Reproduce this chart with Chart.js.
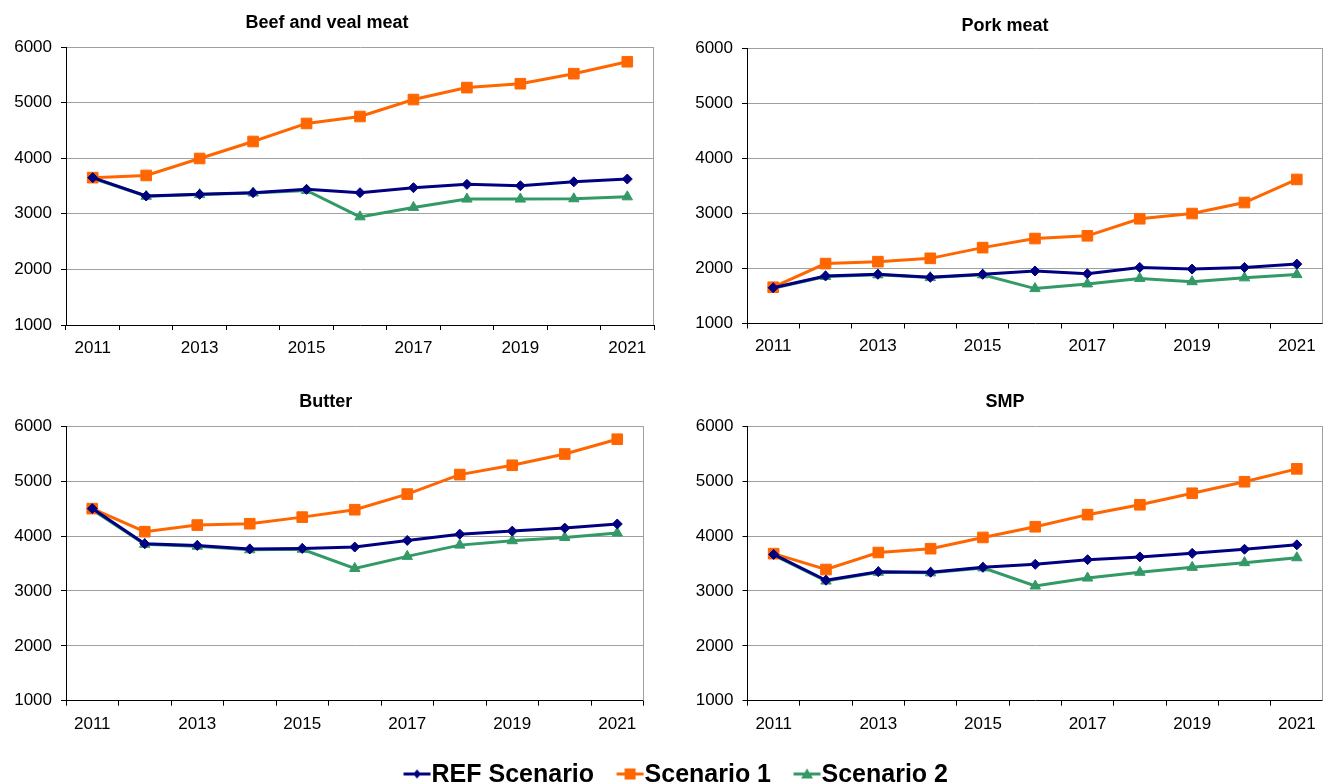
<!DOCTYPE html>
<html>
<head>
<meta charset="utf-8">
<script src="https://cdn.jsdelivr.net/npm/chart.js@4.4.0/dist/chart.umd.min.js"></script>
<style>
  body { margin: 0; background: #fff; width: 1323px; height: 783px; overflow: hidden; position: relative; }
  canvas { position: absolute; }
</style>
</head>
<body>
<canvas id="c1"></canvas>
<canvas id="c2"></canvas>
<canvas id="c3"></canvas>
<canvas id="c4"></canvas>
<canvas id="legend"></canvas>
<script>
// data
const years = ["2011", "2012", "2013", "2014", "2015", "2016", "2017", "2018", "2019", "2020", "2021"];
const seriesNames = ["REF Scenario", "Scenario 1", "Scenario 2"];
const yTicks = [1000, 2000, 3000, 4000, 5000, 6000];

const beefRef = [3650, 3320, 3350, 3380, 3440, 3380, 3470, 3530, 3505, 3575, 3625];
const beefS1 = [3650, 3690, 3995, 4300, 4625, 4750, 5055, 5270, 5340, 5520, 5735];
const beefS2 = [3640, 3315, 3345, 3375, 3420, 2945, 3115, 3265, 3265, 3270, 3305];

const porkRef = [1650, 1865, 1895, 1840, 1895, 1955, 1905, 2020, 1990, 2020, 2080];
const porkS1 = [1660, 2090, 2125, 2185, 2380, 2545, 2595, 2905, 3000, 3200, 3620];
const porkS2 = [1640, 1855, 1885, 1835, 1885, 1635, 1720, 1820, 1760, 1830, 1890];

const butterRef = [4500, 3860, 3830, 3765, 3775, 3800, 3920, 4035, 4090, 4145, 4220];
const butterS1 = [4500, 4080, 4200, 4225, 4345, 4480, 4765, 5120, 5290, 5495, 5765];
const butterS2 = [4480, 3850, 3815, 3750, 3760, 3410, 3630, 3835, 3915, 3975, 4055];

const smpRef = [3665, 3195, 3350, 3340, 3430, 3485, 3570, 3620, 3685, 3760, 3840];
const smpS1 = [3680, 3390, 3700, 3770, 3975, 4170, 4390, 4570, 4780, 4990, 5225];
const smpS2 = [3650, 3180, 3340, 3330, 3420, 3090, 3235, 3340, 3430, 3515, 3605];

// styles
const colors = ["#000080", "#ff6600", "#339966"];
const shapes = ["rectRot", "rect", "triangle"];
const radii = [5, 7.5, 6];
const FONT = "'Liberation Sans', Arial, Helvetica, sans-serif";

// panel layout (canvas box + paddings so plot areas line up with the picture)
const panels = [
  { id: "c1", title: "Beef and veal meat", series: [beefRef, beefS1, beefS2],
    left: 0, top: 0, width: 660, height: 365,
    pad: { left: 0, right: 6, top: 2, bottom: 0 }, yw: 66, xh: 40, tPad: { top: 10, bottom: 13.4 } },
  { id: "c2", title: "Pork meat", series: [porkRef, porkS1, porkS2],
    left: 660, top: 0, width: 663, height: 364,
    pad: { left: 27, right: 0, top: 5, bottom: 0 }, yw: 60, xh: 40.5, tPad: { top: 10, bottom: 12 } },
  { id: "c3", title: "Butter", series: [butterRef, butterS1, butterS2],
    left: 0, top: 380, width: 660, height: 361,
    pad: { left: 8, right: 16.5, top: 1.5, bottom: 0 }, yw: 58, xh: 40.3, tPad: { top: 10, bottom: 13.2 } },
  { id: "c4", title: "SMP", series: [smpRef, smpS1, smpS2],
    left: 660, top: 380, width: 663, height: 361,
    pad: { left: 27, right: 0, top: 1.5, bottom: 0 }, yw: 60.5, xh: 40.3, tPad: { top: 10, bottom: 13.2 } },
];

// gray frame on the right side of the plot area
const rightBorder = {
  id: "rightBorder",
  afterDraw(chart) {
    const { ctx, chartArea } = chart;
    const x = Math.round(chartArea.right) - 0.5;
    ctx.save();
    ctx.strokeStyle = "#a0a0a0";
    ctx.lineWidth = 1;
    ctx.beginPath();
    ctx.moveTo(x, chartArea.top);
    ctx.lineTo(x, chartArea.bottom);
    ctx.stroke();
    ctx.restore();
  },
};

function makeDatasets(series) {
  return series.map((values, i) => ({
    label: seriesNames[i],
    data: values,
    borderColor: colors[i],
    backgroundColor: colors[i],
    borderWidth: 3,
    pointStyle: shapes[i],
    pointRadius: radii[i],
    pointBorderWidth: 1,
    pointBorderColor: colors[i],
    pointBackgroundColor: colors[i],
    tension: 0,
  }));
}

panels.forEach((p) => {
  const cv = document.getElementById(p.id);
  cv.width = p.width;
  cv.height = p.height;
  cv.style.left = p.left + "px";
  cv.style.top = p.top + "px";

  new Chart(cv, {
    type: "line",
    data: { labels: years, datasets: makeDatasets(p.series) },
    plugins: [rightBorder],
    options: {
      responsive: false,
      animation: false,
      layout: { padding: p.pad, autoPadding: false },
      plugins: {
        legend: { display: false },
        tooltip: { enabled: false },
        title: {
          display: true,
          text: p.title,
          color: "#000",
          font: { family: FONT, size: 18, weight: "bold" },
          padding: p.tPad,
        },
      },
      scales: {
        x: {
          offset: true,
          grid: { offset: true, drawOnChartArea: false, tickLength: 5, tickColor: "#000" },
          border: { color: "#000", width: 1 },
          ticks: {
            autoSkip: false,
            maxRotation: 0,
            padding: 8,
            color: "#000",
            font: { family: FONT, size: 17 },
            callback: function (val, i) {
              return i % 2 === 0 ? this.getLabelForValue(val) : "";
            },
          },
          afterFit: (scale) => {
            scale.height = p.xh;
            scale.paddingLeft = 0;
            scale.paddingRight = 0;
          },
        },
        y: {
          min: yTicks[0],
          max: yTicks[yTicks.length - 1],
          afterBuildTicks: (scale) => { scale.ticks = yTicks.map((v) => ({ value: v })); },
          grid: {
            color: (ctx) => (ctx.tick && ctx.tick.value === yTicks[0] ? "rgba(0,0,0,0)" : "#a0a0a0"),
            tickLength: 5,
            tickColor: "#000",
          },
          border: { color: "#000", width: 1 },
          ticks: {
            padding: 9,
            color: "#000",
            font: { family: FONT, size: 17 },
            callback: (v) => String(v),
          },
          afterFit: (scale) => { scale.width = p.yw; },
        },
      },
    },
  });
});

// legend: line segment with the marker in the middle
function legendIcon(i) {
  const c = document.createElement("canvas");
  c.width = 40;
  c.height = 16;
  const g = c.getContext("2d");
  g.strokeStyle = colors[i];
  g.fillStyle = colors[i];
  g.lineWidth = 3;
  const cx = 26, cy = 6.5;
  g.beginPath();
  g.moveTo(12.5, cy);
  g.lineTo(39.5, cy);
  g.stroke();
  g.beginPath();
  if (i === 0) {
    g.moveTo(cx, cy - 4.5); g.lineTo(cx + 4, cy); g.lineTo(cx, cy + 4.5); g.lineTo(cx - 4, cy);
  } else if (i === 1) {
    g.rect(cx - 5.5, cy - 5.5, 11, 11);
  } else {
    g.moveTo(cx, cy - 5.5); g.lineTo(cx + 6, cy + 4.5); g.lineTo(cx - 6, cy + 4.5);
  }
  g.closePath();
  g.fill();
  return c;
}

const lg = document.getElementById("legend");
lg.width = 1323;
lg.height = 120;
lg.style.left = "14px";
lg.style.top = "741px";

new Chart(lg, {
  type: "line",
  data: {
    labels: [],
    datasets: seriesNames.map((name, i) => ({ label: name, data: [], borderColor: colors[i], backgroundColor: colors[i] })),
  },
  options: {
    responsive: false,
    animation: false,
    scales: { x: { display: false }, y: { display: false } },
    plugins: {
      tooltip: { enabled: false },
      legend: {
        display: true,
        position: "top",
        labels: {
          usePointStyle: true,
          pointStyleWidth: 16,
          padding: 22,
          color: "#000",
          font: { family: FONT, size: 25, weight: "bold" },
          generateLabels: (chart) => {
            const items = Chart.defaults.plugins.legend.labels.generateLabels(chart);
            items.forEach((it, i) => { it.pointStyle = legendIcon(i); });
            return items;
          },
        },
      },
    },
  },
});
</script>
</body>
</html>
